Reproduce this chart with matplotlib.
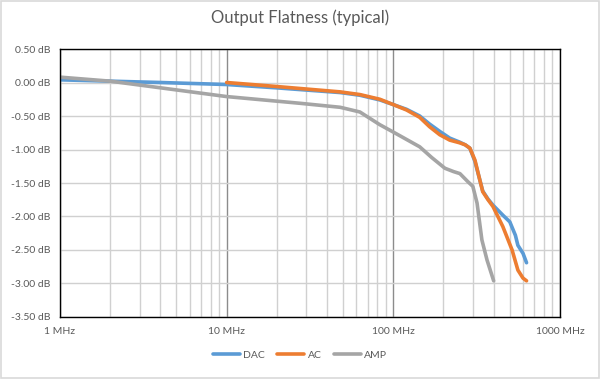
import matplotlib
matplotlib.use("Agg")
import matplotlib.pyplot as plt
from matplotlib.ticker import FixedLocator, LogLocator, NullFormatter, FuncFormatter
from matplotlib.patches import Rectangle

plt.rcParams['font.family'] = ['Lato', 'DejaVu Sans']

title = "Output Flatness (typical)"

dac_f = [1, 2, 4, 10, 20, 48, 63, 83, 100, 120, 144, 165, 190, 218, 250, 270, 288, 309, 330, 344, 370, 396, 454, 500, 540, 559, 600, 630]
dac_db = [0.04, 0.02, 0.0, -0.03, -0.08, -0.15, -0.19, -0.26, -0.33, -0.40, -0.50, -0.62, -0.73, -0.83, -0.89, -0.93, -0.98, -1.18, -1.45, -1.62, -1.74, -1.83, -1.98, -2.08, -2.28, -2.43, -2.55, -2.69]

ac_f = [10, 20, 48, 63, 83, 100, 120, 144, 165, 190, 218, 250, 270, 288, 309, 330, 344, 370, 396, 454, 516, 559, 600, 630]
ac_db = [0.0, -0.06, -0.14, -0.18, -0.25, -0.33, -0.41, -0.52, -0.66, -0.78, -0.86, -0.90, -0.93, -0.98, -1.16, -1.45, -1.63, -1.75, -1.85, -2.15, -2.50, -2.80, -2.92, -2.96]

amp_f = [1, 2, 3.5, 10, 27.5, 48, 63, 83, 100, 120, 144, 170, 204, 230, 251, 280, 300, 318, 340, 365, 400]
amp_db = [0.08, 0.02, -0.06, -0.21, -0.31, -0.37, -0.44, -0.63, -0.74, -0.85, -0.96, -1.12, -1.28, -1.33, -1.36, -1.48, -1.55, -1.80, -2.35, -2.65, -2.96]

y_ticks = [0.5, 0.0, -0.5, -1.0, -1.5, -2.0, -2.5, -3.0, -3.5]
x_ticks = [1, 10, 100, 1000]
x_labels = ["1 MHz", "10 MHz", "100 MHz", "1000 MHz"]

fig = plt.figure(figsize=(6.0, 3.79), dpi=100)
fig.patches.append(Rectangle((0.0015, 0.002), 0.997, 0.996, transform=fig.transFigure,
                             fill=False, edgecolor='#D9D9D9', linewidth=1.2))
ax = fig.add_axes([0.1, 0.1636, 0.8333, 0.7071])

ax.set_xscale('log')
ax.set_xlim(1, 1000)
ax.set_ylim(-3.5, 0.5)

ax.xaxis.set_major_locator(FixedLocator(x_ticks))
ax.set_xticklabels(x_labels)
ax.xaxis.set_minor_locator(LogLocator(base=10, subs=[2, 3, 4, 5, 6, 7, 8, 9]))
ax.xaxis.set_minor_formatter(NullFormatter())
ax.set_yticks(y_ticks)
ax.yaxis.set_major_formatter(FuncFormatter(lambda v, p: f"{v:.2f} dB"))

ax.grid(which='minor', axis='x', color='#D0D0D0', linewidth=1.0)
ax.grid(which='major', axis='x', color='#8C8C8C', linewidth=1.0)
ax.grid(which='major', axis='y', color='#D0D0D0', linewidth=1.0)
ax.set_axisbelow(True)

for s in ax.spines.values():
    s.set_color('black')
    s.set_linewidth(1.0)

ax.tick_params(which='both', length=0, labelsize=7.5, labelcolor='#595959', pad=7)

lw = 2.6
ax.plot(dac_f, dac_db, color='#5B9BD5', lw=lw, label='DAC', solid_joinstyle='round', solid_capstyle='round')
ax.plot(ac_f, ac_db, color='#ED7D31', lw=lw, label='AC', solid_joinstyle='round', solid_capstyle='round')
ax.plot(amp_f, amp_db, color='#A5A5A5', lw=lw, label='AMP', solid_joinstyle='round', solid_capstyle='round')

fig.text(0.5, 0.952, title, ha='center', va='center', fontsize=12, color='#595959')

leg = fig.legend(loc='center', bbox_to_anchor=(0.5, 0.063), ncol=3, frameon=False,
                 fontsize=7.5, handlelength=2.6, handletextpad=0.3, columnspacing=1.2)
for t in leg.get_texts():
    t.set_color('#595959')

fig.savefig('out.png', dpi=100)
